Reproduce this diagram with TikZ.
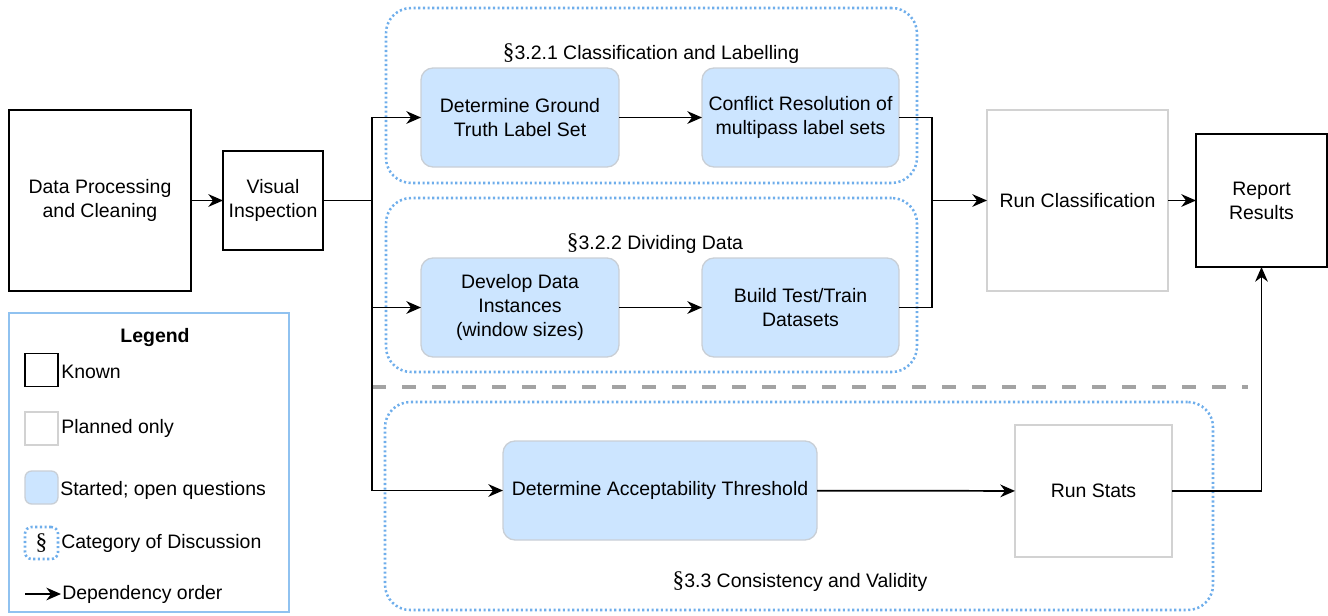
\documentclass[tikz,border=0pt]{standalone}
\usepackage{fontspec}
\setmainfont{Liberation Sans}
\newfontfamily\sectfont{Liberation Serif}
\usetikzlibrary{arrows.meta}

\definecolor{startfill}{HTML}{CCE5FF}
\definecolor{startdraw}{HTML}{C9CFD6}
\definecolor{catblue}{HTML}{6FAEEB}
\definecolor{plannedgray}{HTML}{D2D2D2}
\definecolor{legendblue}{HTML}{90C2F0}
\definecolor{sepgray}{HTML}{A3A3A3}

\newcommand{\sect}{{\sectfont\fontsize{17.5}{18}\selectfont\S}}

\tikzset{
  sz/.style 2 args={minimum width=#1*0.75pt, minimum height=#2*0.75pt},
  base/.style={align=center, inner sep=2pt, outer sep=0pt},
  known/.style={base, draw=black, line width=1.3pt, fill=white},
  planned/.style={base, draw=plannedgray, line width=1.5pt, fill=white},
  started/.style={base, draw=startdraw, line width=1pt, fill=startfill, rounded corners=9pt},
  category/.style={base, draw=catblue, line width=1.9pt, dash pattern=on 1.6pt off 1.9pt, rounded corners=19pt},
  grouplabel/.style={inner sep=0pt},
  legtext/.style={anchor=west, inner sep=0pt},
  arr/.style={line width=1.3pt, -{Stealth[length=11pt,width=9.5pt,inset=3.5pt]}},
  link/.style={line width=1.3pt},
  separator/.style={draw=sepgray, line width=3.6pt, dash pattern=on 10.5pt off 12pt},
}

\begin{document}
\begin{tikzpicture}[x=0.75pt, y=-0.75pt, font=\fontsize{14.6}{18}\selectfont]
\useasboundingbox (0,0) rectangle (1328,615);

% discussion categories
\node[category, sz={531}{175}] (g1) at (651.5,95.5) {};
\node[category, sz={531}{174}] (g2) at (651.5,285) {};
\node[category, sz={828}{208}] (g3) at (799,506) {};
\node[grouplabel] (g1l) at (651,54) {\sect3.2.1 Classification and Labelling};
\node[grouplabel] (g2l) at (655,244) {\sect3.2.2 Dividing Data};
\node[grouplabel] (g3l) at (800,582) {\sect3.3 Consistency and Validity};

% separator between the classification work and the validity work
\coordinate (s1) at (372,387);
\coordinate (s2) at (1248,387);
\draw[separator] (s1) -- (s2);

% process steps
\node[known, sz={182}{181}] (dp) at (100,200.5) {Data Processing\\and Cleaning};
\node[known, sz={100}{99}] (vi) at (273,200.5) {Visual\\Inspection};
\node[started, sz={198}{99}] (dg) at (520,117.5) {Determine Ground\\Truth Label Set};
\node[started, sz={197}{99}] (cr) at (800.5,117.5) {Conflict Resolution of\\multipass label sets};
\node[started, sz={198}{99}] (dd) at (520,307.5) {Develop Data\\Instances\\(window sizes)};
\node[started, sz={197}{99}] (bt) at (800.5,307.5) {Build Test/Train\\Datasets};
\node[started, sz={314}{99}] (da) at (660,490.5) {Determine Acceptability Threshold};
\node[planned, sz={157}{132}] (rs) at (1093.5,491) {Run Stats};
\node[planned, sz={181}{181}] (rc) at (1077.5,200.5) {Run Classification};
\node[known, sz={131}{133}] (rr) at (1261.5,200.5) {Report\\Results};

% dependencies
\coordinate (j1) at (372,200.5);
\coordinate (j2) at (932,200.5);
\draw[arr] (dp) -- (vi);
\draw[link] (vi.east) -- (j1);
\draw[arr] (j1) |- (dg.west);
\draw[arr] (j1) |- (dd.west);
\draw[arr] (j1) |- (da.west);
\draw[arr] (dg) -- (cr);
\draw[arr] (dd) -- (bt);
\draw[link] (cr.east) -| (j2);
\draw[link] (bt.east) -| (j2);
\draw[arr] (j2) -- (rc.west);
\draw[arr] (rc) -- (rr);
\draw[arr] (da) -- (rs);
\draw[arr] (rs.east) -| (rr.south);

% legend
\node[base, draw=legendblue, line width=1.3pt, fill=white, sz={280}{299}] (leg) at (149,462.5) {};
\node[inner sep=0pt, font=\fontsize{14.6}{18}\selectfont\bfseries] (legt) at (155,338) {Legend};
\node[known, sz={33}{33}, inner sep=0pt] (lk) at (41.5,370) {};
\node[legtext] (lkt) at (61,372) {Known};
\node[planned, sz={33}{33}, inner sep=0pt] (lp) at (41.5,428.5) {};
\node[legtext] (lpt) at (61,428) {Planned only};
\node[started, sz={33}{33}, inner sep=0pt, rounded corners=5pt] (ls) at (41.5,487.5) {};
\node[legtext] (lst) at (60,490) {Started; open questions};
\node[category, sz={33}{32}, inner sep=0pt, rounded corners=5pt] (lc) at (41.5,543) {\sect};
\node[legtext] (lct) at (61,543) {Category of Discussion};
\coordinate (la1) at (25,594);
\coordinate (la2) at (61,594);
\draw[arr] (la1) -- (la2);
\node[legtext] (lat) at (62,594) {Dependency order};
\end{tikzpicture}
\end{document}
